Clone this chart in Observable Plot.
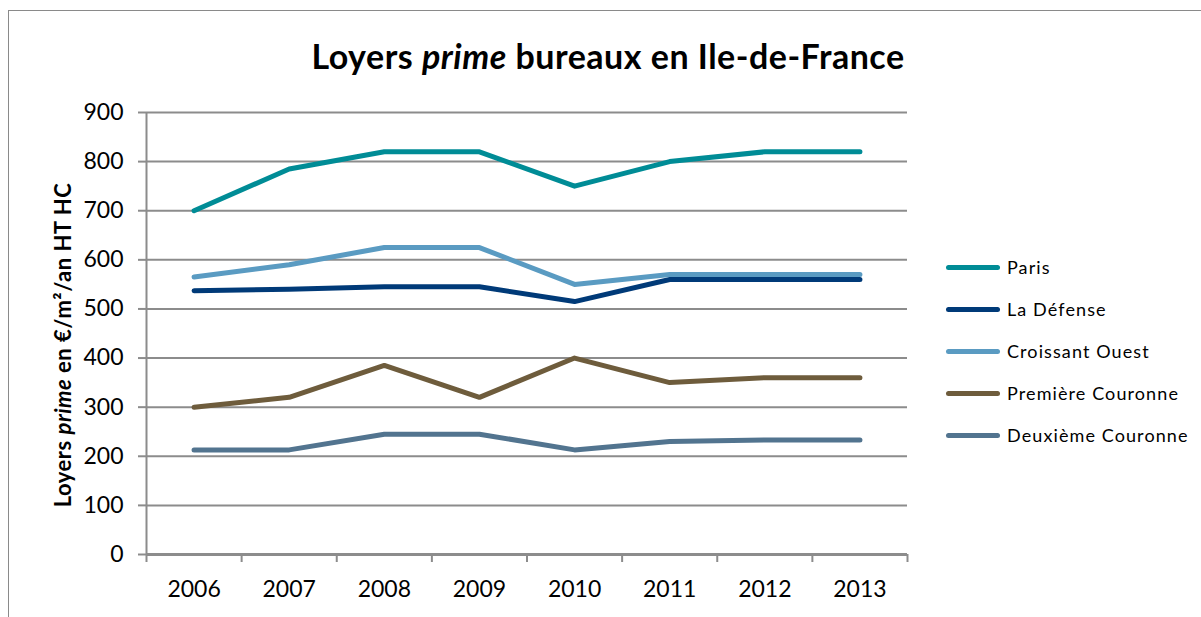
<!DOCTYPE html>
<html>
<head>
<meta charset="utf-8">
<script src="https://cdn.jsdelivr.net/npm/d3@7"></script>
<script src="https://cdn.jsdelivr.net/npm/@observablehq/plot@0.6"></script>
<style>
  html, body { margin: 0; padding: 0; background: #fff; overflow: hidden; }
  body { width: 1201px; height: 617px; position: relative; font-family: Lato, "Open Sans", sans-serif; }
  #frame { position: absolute; left: 8px; top: 10px; width: 1300px; height: 700px; border: 1.5px solid #8a8a8a; box-sizing: border-box; }
  #chart { position: absolute; left: 0; top: 0; }
  #title { position: absolute; left: 0; width: 1216px; top: 35px; text-align: center; font-weight: bold; font-size: 34px; color: #000; letter-spacing: 0.5px; }
  #ylabel { position: absolute; left: 62px; top: 345px; transform: translate(-50%, -50%) rotate(-90deg); white-space: nowrap; font-weight: bold; font-size: 22px; letter-spacing: 0.5px; color: #000; }
  .leg { position: absolute; left: 946px; height: 20px; display: flex; align-items: center; font-size: 18px; letter-spacing: 1.1px; color: #000; white-space: nowrap; }
  .leg .sw { width: 54px; height: 5px; border-radius: 3px; margin-right: 7px; }
</style>
</head>
<body>
<div id="frame"></div>
<div id="chart"></div>
<div id="title">Loyers <i>prime</i> bureaux en Ile-de-France</div>
<div id="ylabel">Loyers <i>prime</i> en €/m²/an HT HC</div>
<div id="legend"></div>
<script>
const years = [2006, 2007, 2008, 2009, 2010, 2011, 2012, 2013];
const seriesNames = ["Paris", "La Défense", "Croissant Ouest", "Première Couronne", "Deuxième Couronne"];
const seriesColors = ["#008c96", "#003a78", "#5a9bc2", "#6e5c3c", "#52748f"];
const paris = [700, 785, 820, 820, 750, 800, 820, 820];
const laDefense = [537, 540, 545, 545, 515, 560, 560, 560];
const croissantOuest = [565, 590, 625, 625, 550, 570, 570, 570];
const premiereCouronne = [300, 320, 385, 320, 400, 350, 360, 360];
const deuxiemeCouronne = [213, 213, 245, 245, 213, 230, 233, 233];
const yTicks = [0, 100, 200, 300, 400, 500, 600, 700, 800, 900];

const seriesValues = [paris, laDefense, croissantOuest, premiereCouronne, deuxiemeCouronne];
const rows = [];
seriesNames.forEach((name, i) => {
  years.forEach((yr, j) => rows.push({ series: name, year: yr, value: seriesValues[i][j] }));
});
const boundaries = years.map(y => y - 0.5).concat([years[years.length - 1] + 0.5]);
const grid = yTicks.filter(v => v > 0);

const plot = Plot.plot({
  width: 1201,
  height: 617,
  marginLeft: 146,
  marginRight: 294,
  marginTop: 112,
  marginBottom: 63,
  style: { fontFamily: "Lato, 'Open Sans', sans-serif", background: "transparent", overflow: "visible" },
  x: { domain: [boundaries[0], boundaries[boundaries.length - 1]], label: null },
  y: { domain: [0, 900], label: null },
  color: { domain: seriesNames, range: seriesColors },
  marks: [
    Plot.ruleY(grid, { y: d => d, stroke: "#8c8c8c", strokeWidth: 2 }),
    Plot.ruleX([boundaries[0]], { x: d => d, y1: 0, y2: 900, stroke: "#8c8c8c", strokeWidth: 2 }),
    Plot.axisY({ ticks: yTicks, tickSize: 8, tickPadding: 15, stroke: "#8c8c8c", strokeWidth: 2, strokeOpacity: 1, fontSize: 23, fill: "#000", tickFormat: d => String(d), label: null }),
    Plot.axisX({ ticks: boundaries, tickSize: 8, tickFormat: () => "", stroke: "#8c8c8c", strokeWidth: 2, strokeOpacity: 1, label: null }),
    Plot.axisX({ ticks: years, tickSize: 0, tickPadding: 26, tickFormat: d => String(d), fontSize: 23, fill: "#000", label: null }),
    Plot.ruleY([0], { stroke: "#8c8c8c", strokeWidth: 3 }),
    Plot.line(rows, { x: "year", y: "value", z: "series", stroke: "series", strokeWidth: 5, strokeLinecap: "round", strokeLinejoin: "round" })
  ]
});
document.getElementById("chart").appendChild(plot);

const legend = document.getElementById("legend");
const legendTops = [257, 299, 341, 383, 425];
seriesNames.forEach((name, i) => {
  const d = document.createElement("div");
  d.className = "leg";
  d.style.top = legendTops[i] + "px";
  d.innerHTML = `<div class="sw" style="background:${seriesColors[i]}"></div><span>${name}</span>`;
  legend.appendChild(d);
});
</script>
</body>
</html>
